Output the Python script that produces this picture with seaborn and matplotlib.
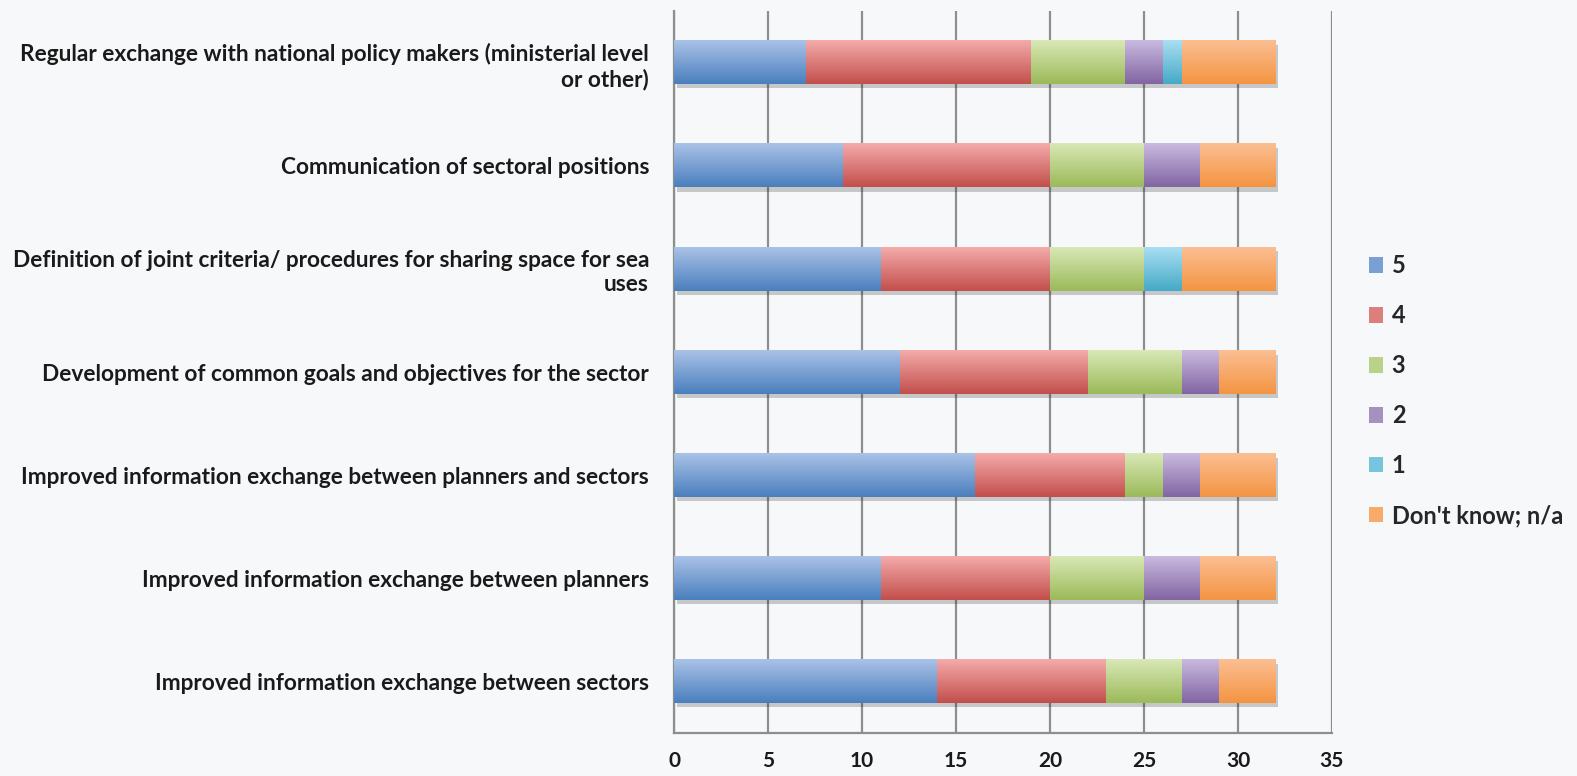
import numpy as np
import pandas as pd
import matplotlib
matplotlib.use("Agg")
import matplotlib.pyplot as plt
import matplotlib.patheffects as pe
from matplotlib.colors import to_rgb
from matplotlib.patches import Patch
import seaborn as sns

categories = [
    "Regular exchange with national policy makers (ministerial level\nor other)",
    "Communication of sectoral positions",
    "Definition of joint criteria/ procedures for sharing space for sea\nuses",
    "Development of common goals and objectives for the sector",
    "Improved information exchange between planners and sectors",
    "Improved information exchange between planners",
    "Improved information exchange between sectors",
]
series_names = ["5", "4", "3", "2", "1", "Don't know; n/a"]
s5 = [7, 9, 11, 12, 16, 11, 14]
s4 = [12, 11, 9, 10, 8, 9, 9]
s3 = [5, 5, 5, 5, 2, 5, 4]
s2 = [2, 3, 0, 2, 2, 3, 2]
s1 = [1, 0, 2, 0, 0, 0, 0]
sdk = [5, 4, 5, 3, 4, 4, 3]
series_values = [s5, s4, s3, s2, s1, sdk]
x_ticks = [0, 5, 10, 15, 20, 25, 30, 35]

top_colors = ["#aac2e8", "#f4abaa", "#d9e8b6", "#c9badf", "#a9def3", "#fbbf92"]
bot_colors = ["#4a7fbd", "#c24f4c", "#9bba59", "#8265a3", "#45aac6", "#f49442"]
mid_colors = ["#7aa0d3", "#dc7e7c", "#bad189", "#a690c1", "#77c4dc", "#f8aa6a"]

bg = "#f7f8fa"
grid_c = "#8e8e8e"

sns.set_theme(style="white")
plt.rcParams["font.family"] = ["Lato", "DejaVu Sans"]
plt.rcParams["font.weight"] = "bold"

fig = plt.figure(figsize=(15.77, 7.76), dpi=100, facecolor=bg)
ax = fig.add_axes([0.4274, 0.0554, 0.8446 - 0.4274, 0.9858 - 0.0554])
ax.set_facecolor(bg)

left = np.zeros(len(categories))
for k, (name, vals) in enumerate(zip(series_names, series_values)):
    df = pd.DataFrame({"cat": categories, "val": vals})
    n_before = len(ax.patches)
    sns.barplot(data=df, x="val", y="cat", order=categories, orient="h",
                color=mid_colors[k], width=0.42, left=left.copy(), ax=ax,
                errorbar=None, zorder=3 + k * 0.01, linewidth=0)
    c0 = np.array(to_rgb(top_colors[k]))
    c1 = np.array(to_rgb(bot_colors[k]))
    t = np.linspace(0, 1, 64)[:, None]
    grad = (c0 * (1 - t) + c1 * t)[:, None, :]
    for p in ax.patches[n_before:]:
        w = p.get_width()
        if w <= 0:
            continue
        x0, y0, h = p.get_x(), p.get_y(), p.get_height()
        p.set_path_effects([pe.SimplePatchShadow(offset=(2, -3), shadow_rgbFace="k", alpha=0.22), pe.Normal()])
        ax.imshow(grad, extent=(x0, x0 + w, y0 + h, y0), aspect="auto",
                  interpolation="bilinear", zorder=3 + k * 0.01 + 0.005)
    left += np.array(vals)

ax.set_xlim(0, 35)
ax.set_ylim(len(categories) - 0.5, -0.5)
ax.set_xticks(x_ticks)
ax.set_xticklabels([str(v) for v in x_ticks])
ax.grid(axis="x", color=grid_c, linewidth=1.6, zorder=0)
ax.grid(axis="y", visible=False)
ax.set_axisbelow(True)
for s in ["top", "right"]:
    ax.spines[s].set_visible(False)
for s in ["left", "bottom"]:
    ax.spines[s].set_color(grid_c)
    ax.spines[s].set_linewidth(1.6)
ax.set_xlabel("")
ax.set_ylabel("")
ax.set_yticks(np.arange(-0.5, len(categories), 1), minor=True)
ax.tick_params(axis="y", which="major", length=0, pad=18, labelsize=16.3, labelcolor="#1a1a1a")
ax.tick_params(axis="y", which="minor", length=6.5, width=1.6, color=grid_c, direction="out")
ax.tick_params(axis="x", length=6, width=1.6, color=grid_c, direction="out", pad=7,
               labelsize=15, labelcolor="#1a1a1a")
for lab in ax.get_yticklabels() + ax.get_xticklabels():
    lab.set_fontweight("bold")

handles = [Patch(facecolor=mid_colors[k], edgecolor="none", label=series_names[k])
           for k in range(len(series_names))]
fig.legend(handles=handles, loc="center left", bbox_to_anchor=(0.868, 0.4965),
           frameon=False, labelspacing=1.14, handlelength=0.62,
           handleheight=0.62, handletextpad=0.35, borderaxespad=0, borderpad=0,
           prop={"weight": "bold", "size": 17})

fig.savefig("out.png", dpi=100, facecolor=bg)
